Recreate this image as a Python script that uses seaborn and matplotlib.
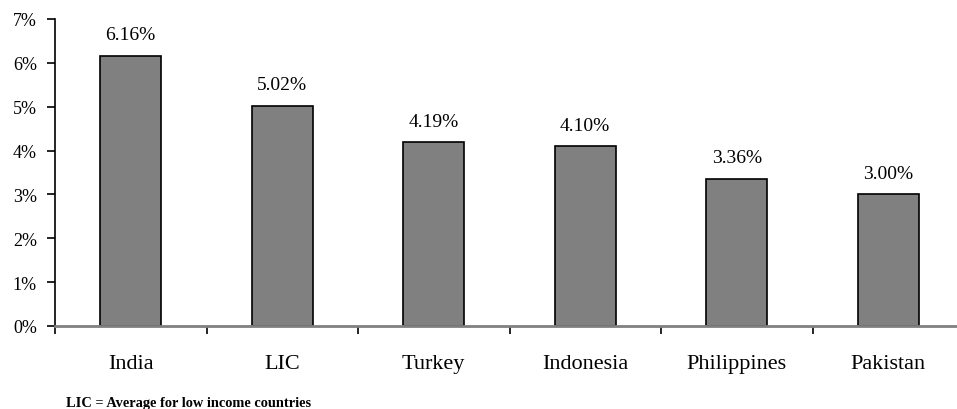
import matplotlib
matplotlib.use("Agg")
import matplotlib.pyplot as plt
import seaborn as sns
import pandas as pd
from matplotlib.ticker import FixedLocator, PercentFormatter

countries = ["India", "LIC", "Turkey", "Indonesia", "Philippines", "Pakistan"]
values = [6.16, 5.02, 4.19, 4.10, 3.36, 3.00]
y_ticks = [0, 1, 2, 3, 4, 5, 6, 7]
footnote = "LIC = Average for low income countries"

sns.set_theme(style="white")
plt.rcParams["font.family"] = ["Liberation Serif", "DejaVu Serif"]

df = pd.DataFrame({"country": countries, "value": values})

fig = plt.figure(figsize=(9.57, 4.10), dpi=100)
ax = fig.add_axes([55 / 957, (410 - 327) / 410, 909 / 957, 307 / 410])

sns.barplot(data=df, x="country", y="value", ax=ax, color="#808080",
            width=0.4, edgecolor="black", linewidth=1.2, saturation=1)

ax.set_ylim(0, 7)
ax.set_xlim(-0.5, len(countries) - 0.5)
ax.set_yticks(y_ticks)
ax.yaxis.set_major_formatter(PercentFormatter(decimals=0))
ax.set_xlabel("")
ax.set_ylabel("")

for i, v in enumerate(values):
    ax.annotate(f"{v:.2f}%", (i, v), xytext=(0, 9), textcoords="offset points",
                ha="center", va="bottom", fontsize=14, color="black")

for s in ["top", "right"]:
    ax.spines[s].set_visible(False)
ax.spines["left"].set_color("black")
ax.spines["left"].set_linewidth(1.2)
ax.spines["bottom"].set_color("#808080")
ax.spines["bottom"].set_linewidth(2)

ax.tick_params(axis="y", left=True, length=6, width=1.2, color="black",
               labelsize=13, pad=7, labelcolor="black")
ax.tick_params(axis="x", bottom=False, labelsize=16, pad=14, labelcolor="black")
ax.xaxis.set_minor_locator(FixedLocator([k - 0.5 for k in range(len(countries) + 1)]))
ax.tick_params(axis="x", which="minor", bottom=True, length=6, width=1.2,
               color="black", direction="out")

fig.text(66 / 957, 1 - 407 / 410, footnote, fontsize=10.4, fontweight="bold",
         ha="left", va="baseline", color="black")

fig.savefig("out.png", dpi=100)
